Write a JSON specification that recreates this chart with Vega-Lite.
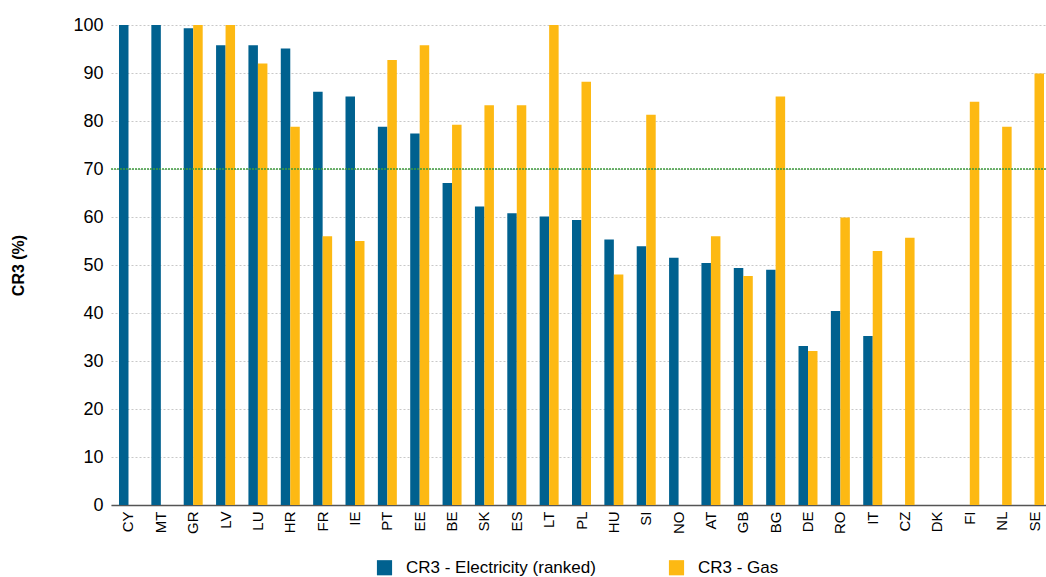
{
  "$schema": "https://vega.github.io/schema/vega-lite/v6.json",
  "width": 941,
  "height": 480,
  "autosize": {"type": "none"},
  "padding": {"left": 111, "top": 25, "right": 0, "bottom": 72},
  "config": {
    "font": "Liberation Sans",
    "view": {"stroke": null},
    "axis": {"labelFont": "Liberation Sans", "titleFont": "Liberation Sans"}
  },
  "datasets": {
    "cr3": [
      {"country": "CY", "series": "CR3 - Electricity (ranked)", "value": 100},
      {"country": "MT", "series": "CR3 - Electricity (ranked)", "value": 100},
      {"country": "GR", "series": "CR3 - Electricity (ranked)", "value": 99.3},
      {"country": "GR", "series": "CR3 - Gas", "value": 100},
      {"country": "LV", "series": "CR3 - Electricity (ranked)", "value": 95.8},
      {"country": "LV", "series": "CR3 - Gas", "value": 100},
      {"country": "LU", "series": "CR3 - Electricity (ranked)", "value": 95.8},
      {"country": "LU", "series": "CR3 - Gas", "value": 92.0},
      {"country": "HR", "series": "CR3 - Electricity (ranked)", "value": 95.1},
      {"country": "HR", "series": "CR3 - Gas", "value": 78.8},
      {"country": "FR", "series": "CR3 - Electricity (ranked)", "value": 86.1},
      {"country": "FR", "series": "CR3 - Gas", "value": 56.0},
      {"country": "IE", "series": "CR3 - Electricity (ranked)", "value": 85.1},
      {"country": "IE", "series": "CR3 - Gas", "value": 55.0},
      {"country": "PT", "series": "CR3 - Electricity (ranked)", "value": 78.8},
      {"country": "PT", "series": "CR3 - Gas", "value": 92.7},
      {"country": "EE", "series": "CR3 - Electricity (ranked)", "value": 77.4},
      {"country": "EE", "series": "CR3 - Gas", "value": 95.8},
      {"country": "BE", "series": "CR3 - Electricity (ranked)", "value": 67.1},
      {"country": "BE", "series": "CR3 - Gas", "value": 79.2},
      {"country": "SK", "series": "CR3 - Electricity (ranked)", "value": 62.2},
      {"country": "SK", "series": "CR3 - Gas", "value": 83.3},
      {"country": "ES", "series": "CR3 - Electricity (ranked)", "value": 60.8},
      {"country": "ES", "series": "CR3 - Gas", "value": 83.3},
      {"country": "LT", "series": "CR3 - Electricity (ranked)", "value": 60.1},
      {"country": "LT", "series": "CR3 - Gas", "value": 100},
      {"country": "PL", "series": "CR3 - Electricity (ranked)", "value": 59.4},
      {"country": "PL", "series": "CR3 - Gas", "value": 88.2},
      {"country": "HU", "series": "CR3 - Electricity (ranked)", "value": 55.3},
      {"country": "HU", "series": "CR3 - Gas", "value": 48.0},
      {"country": "SI", "series": "CR3 - Electricity (ranked)", "value": 53.9},
      {"country": "SI", "series": "CR3 - Gas", "value": 81.3},
      {"country": "NO", "series": "CR3 - Electricity (ranked)", "value": 51.5},
      {"country": "AT", "series": "CR3 - Electricity (ranked)", "value": 50.4},
      {"country": "AT", "series": "CR3 - Gas", "value": 56.0},
      {"country": "GB", "series": "CR3 - Electricity (ranked)", "value": 49.4},
      {"country": "GB", "series": "CR3 - Gas", "value": 47.7},
      {"country": "BG", "series": "CR3 - Electricity (ranked)", "value": 49.0},
      {"country": "BG", "series": "CR3 - Gas", "value": 85.1},
      {"country": "DE", "series": "CR3 - Electricity (ranked)", "value": 33.1},
      {"country": "DE", "series": "CR3 - Gas", "value": 32.1},
      {"country": "RO", "series": "CR3 - Electricity (ranked)", "value": 40.4},
      {"country": "RO", "series": "CR3 - Gas", "value": 59.9},
      {"country": "IT", "series": "CR3 - Electricity (ranked)", "value": 35.2},
      {"country": "IT", "series": "CR3 - Gas", "value": 52.9},
      {"country": "CZ", "series": "CR3 - Gas", "value": 55.7},
      {"country": "FI", "series": "CR3 - Gas", "value": 84.0},
      {"country": "NL", "series": "CR3 - Gas", "value": 78.8},
      {"country": "SE", "series": "CR3 - Gas", "value": 89.9}
    ],
    "threshold": [{"level": 70}]
  },
  "layer": [
    {
      "data": {"name": "cr3"},
      "mark": {"type": "bar"},
      "encoding": {
        "x": {
          "field": "country",
          "type": "nominal",
          "sort": null,
          "scale": {
            "domain": ["CY", "MT", "GR", "LV", "LU", "HR", "FR", "IE", "PT", "EE", "BE", "SK", "ES", "LT", "PL", "HU", "SI", "NO", "AT", "GB", "BG", "DE", "RO", "IT", "CZ", "DK", "FI", "NL", "SE"],
            "paddingInner": 0.413,
            "paddingOuter": 0.247
          },
          "axis": {
            "title": null,
            "labelAngle": -90,
            "labelFontSize": 15,
            "labelColor": "#000000",
            "labelPadding": 6,
            "ticks": false,
            "domainColor": "#555555",
            "domainWidth": 1.5,
            "grid": false
          }
        },
        "xOffset": {"field": "series", "type": "nominal"},
        "y": {
          "field": "value",
          "type": "quantitative",
          "scale": {"domain": [0, 100], "nice": false},
          "axis": {
            "title": "CR3 (%)",
            "titleFontSize": 16,
            "titleFontWeight": "bold",
            "titleColor": "#000000",
            "titleX": -93,
            "titleY": 240,
            "titleAlign": "center",
            "titleBaseline": "middle",
            "values": [0, 10, 20, 30, 40, 50, 60, 70, 80, 90, 100],
            "labelFontSize": 18,
            "labelColor": "#000000",
            "labelPadding": 8,
            "ticks": false,
            "domain": false,
            "grid": true,
            "gridColor": "#c8c8c8",
            "gridDash": [2, 2],
            "gridWidth": 1
          }
        },
        "color": {
          "field": "series",
          "type": "nominal",
          "scale": {
            "domain": ["CR3 - Electricity (ranked)", "CR3 - Gas"],
            "range": ["#00618f", "#fdb913"]
          },
          "legend": {
            "title": null,
            "orient": "none",
            "direction": "horizontal",
            "legendX": 265,
            "legendY": 534,
            "symbolType": "square",
            "symbolSize": 230,
            "symbolStrokeWidth": 0,
            "labelFontSize": 17,
            "labelColor": "#000000",
            "labelOffset": 13,
            "labelLimit": 400,
            "columnPadding": 72
          }
        }
      }
    },
    {
      "data": {"name": "threshold"},
      "mark": {"type": "rule", "color": "#3c9a3c", "strokeWidth": 1.5, "strokeDash": [2, 1]},
      "encoding": {
        "y": {"field": "level", "type": "quantitative"}
      }
    }
  ]
}
